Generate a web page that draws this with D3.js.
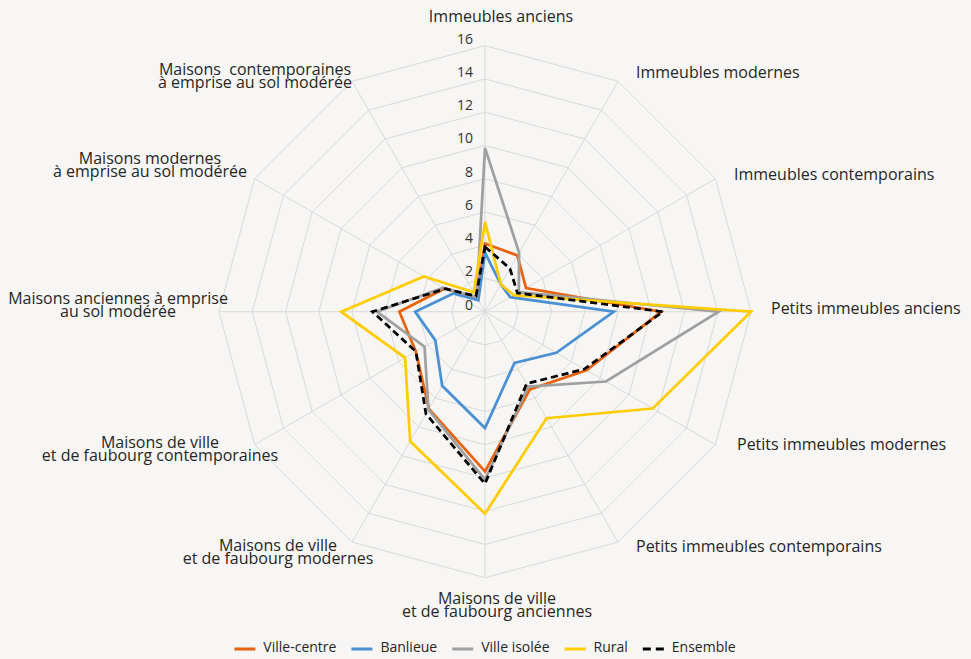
<!DOCTYPE html>
<html>
<head>
<meta charset="utf-8">
<script src="https://cdn.jsdelivr.net/npm/d3@7"></script>
<style>
  html, body { margin: 0; background: #f7f6f4; }
  svg { display: block; font-family: "Open Sans", sans-serif; }
</style>
</head>
<body>
<svg id="chart" width="971" height="659"></svg>
<script>
// axis labels, clockwise from top
const axisLabels = [
  ['Immeubles anciens'],
  ['Immeubles modernes'],
  ['Immeubles contemporains'],
  ['Petits immeubles anciens'],
  ['Petits immeubles modernes'],
  ['Petits immeubles contemporains'],
  ['Maisons de ville', 'et de faubourg anciennes'],
  ['Maisons de ville', 'et de faubourg modernes'],
  ['Maisons de ville', 'et de faubourg contemporaines'],
  ['Maisons anciennes à emprise', 'au sol modérée'],
  ['Maisons modernes', 'à emprise au sol modérée'],
  ['Maisons  contemporaines', 'à emprise au sol modérée']
];

const ticks = [0, 2, 4, 6, 8, 10, 12, 14, 16];

// series values (same order as axisLabels)
const villeCentre = [4.1, 3.9, 2.85, 10.6, 7.05, 5.4, 9.6, 6.75, 4.8, 5.15, 2.8, 1.0];
const banlieue    = [3.55, 1.9, 1.75, 7.75, 4.95, 3.55, 7.0, 5.15, 3.45, 4.2, 2.2, 0.8];
const villeIsolee = [9.85, 4.1, 2.35, 14.05, 8.4, 5.2, 10.1, 6.8, 4.2, 6.5, 2.9, 1.0];
const rural       = [5.4, 1.9, 2.0, 16.0, 11.65, 7.4, 12.15, 9.0, 5.55, 8.65, 4.25, 1.35];
const ensemble    = [3.9, 3.0, 2.25, 10.7, 6.9, 5.0, 10.35, 7.1, 4.8, 6.77, 2.76, 1.08];

const seriesNames = ['Ville-centre', 'Banlieue', 'Ville isolée', 'Rural', 'Ensemble'];

// styles
const colors = ['#e8630f', '#4a90d2', '#a0a0a0', '#ffcc00', '#000000'];
const dashes = [null, null, null, null, '7,4'];

// label placement relative to the centre: [dx, dy of first baseline, anchor]
const labelPos = [
  [16, -290, 'middle'],
  [151, -234, 'start'],
  [249, -131.5, 'start'],
  [286, 1.8, 'start'],
  [252, 138.5, 'start'],
  [151, 240, 'start'],
  [12, 292, 'middle'],
  [-207, 239, 'middle'],
  [-325, 136, 'middle'],
  [-367, -7.5, 'middle'],
  [-335, -147.5, 'middle'],
  [-230, -236.5, 'middle']
];

const series = [villeCentre, banlieue, villeIsolee, rural, ensemble].map(function (values, i) {
  return { name: seriesNames[i], values: values, color: colors[i], dash: dashes[i] };
});

const cx = 485, cy = 311.7, radius = 266;

const svg = d3.select('#chart');
const g = svg.append('g').attr('transform', `translate(${cx},${cy})`);

const r = d3.scaleLinear().domain([0, 16]).range([0, radius]);
const angle = d3.scaleLinear().domain([0, axisLabels.length]).range([0, 2 * Math.PI]);

function point(i, v) {
  const a = angle(i);
  return [r(v) * Math.sin(a), -r(v) * Math.cos(a)];
}

// radial line used for rings and series
const line = d3.lineRadial()
  .angle(function (d, i) { return angle(i); })
  .radius(function (d) { return r(d); })
  .curve(d3.curveLinearClosed);

// grid rings
g.selectAll('.ring')
  .data(ticks.filter(function (t) { return t > 0; }))
  .enter()
  .append('path')
  .attr('class', 'ring')
  .attr('d', function (t) { return line(axisLabels.map(function () { return t; })); })
  .attr('fill', 'none')
  .attr('stroke', '#d9d9d9')
  .attr('stroke-width', 1);

// spokes
g.selectAll('.spoke')
  .data(axisLabels)
  .enter()
  .append('line')
  .attr('class', 'spoke')
  .attr('x1', 0).attr('y1', 0)
  .attr('x2', function (d, i) { return point(i, 16)[0]; })
  .attr('y2', function (d, i) { return point(i, 16)[1]; })
  .attr('stroke', '#d9d9d9')
  .attr('stroke-width', 1);

// tick labels
g.selectAll('.tick')
  .data(ticks)
  .enter()
  .append('text')
  .attr('class', 'tick')
  .attr('x', -12)
  .attr('y', function (t) { return -r(t) - 2; })
  .attr('text-anchor', 'end')
  .attr('font-size', 14)
  .attr('fill', '#333')
  .text(function (t) { return t; });

// series
g.selectAll('.series')
  .data(series)
  .enter()
  .append('path')
  .attr('class', 'series')
  .attr('d', function (s) { return line(s.values); })
  .attr('fill', 'none')
  .attr('stroke', function (s) { return s.color; })
  .attr('stroke-width', 2.75)
  .attr('stroke-linejoin', 'miter')
  .attr('stroke-dasharray', function (s) { return s.dash; });

// axis labels
axisLabels.forEach(function (lines, i) {
  const pos = labelPos[i];
  const t = g.append('text')
    .attr('x', pos[0])
    .attr('y', pos[1])
    .attr('text-anchor', pos[2])
    .attr('font-size', 16)
    .attr('fill', '#262626')
    .style('white-space', 'pre');
  lines.forEach(function (l, j) {
    t.append('tspan')
      .attr('x', pos[0])
      .attr('dy', j === 0 ? 0 : 13)
      .text(l);
  });
});

// legend
const legend = svg.append('g');
let lx = 0;
series.forEach(function (s) {
  const item = legend.append('g').attr('transform', `translate(${lx},0)`);
  item.append('line')
    .attr('x1', 0).attr('x2', 21)
    .attr('y1', 649).attr('y2', 649)
    .attr('stroke', s.color)
    .attr('stroke-width', 3)
    .attr('stroke-dasharray', s.dash ? '8,5' : null);
  const txt = item.append('text')
    .attr('x', 29)
    .attr('y', 652)
    .attr('font-size', 14)
    .attr('fill', '#262626')
    .text(s.name);
  lx += 29 + txt.node().getComputedTextLength() + 15;
});
lx -= 15;
legend.attr('transform', `translate(${cx - lx / 2},0)`);
</script>
</body>
</html>
